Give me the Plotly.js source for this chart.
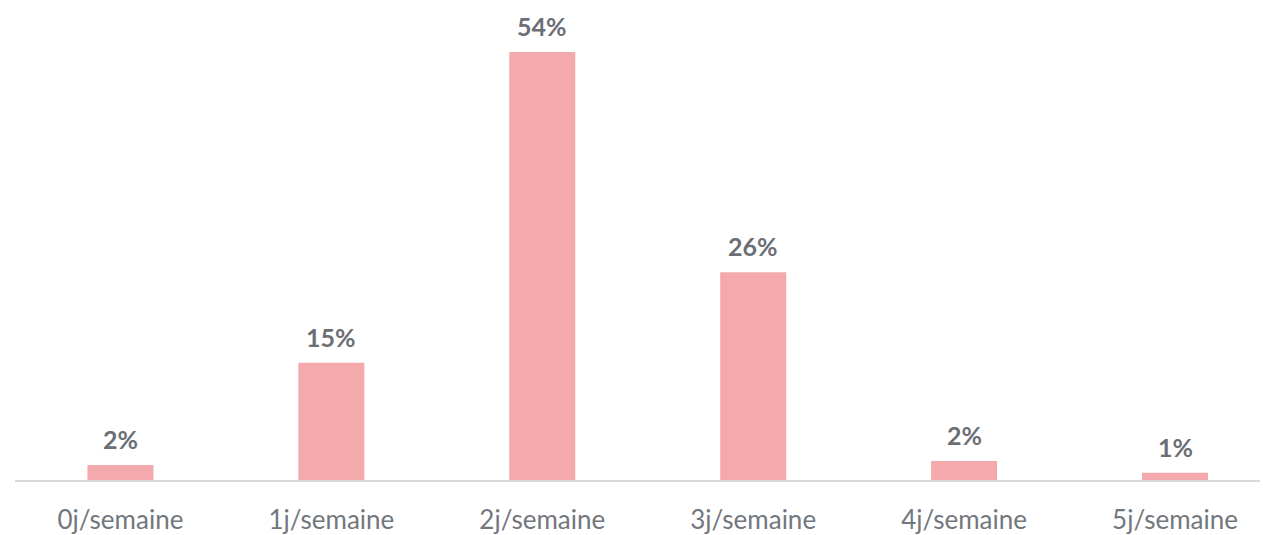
<!DOCTYPE html>
<html><head><meta charset="utf-8">
<script src="https://cdn.plot.ly/plotly-3.0.1.min.js"></script>
<style>html,body{margin:0;padding:0;background:#fff}#chart{width:1263px;height:535px}</style>
</head><body><div id="chart"></div>
<script>
const categories = ["0j/semaine","1j/semaine","2j/semaine","3j/semaine","4j/semaine","5j/semaine"];
const values = [1.9, 14.8, 54, 26.2, 2.4, 0.9];
const labels = ["2%","15%","54%","26%","2%","1%"];

const trace = {
  type: 'bar', x: categories, y: values,
  marker: {color: '#f4a9ad'}, width: 0.313, hoverinfo: 'none'
};
const annotations = categories.map((c, i) => ({
  x: c, y: values[i], text: '<b>' + labels[i] + '</b>', showarrow: false,
  yanchor: 'bottom', yshift: 9,
  font: {family: 'Lato, "Open Sans", sans-serif', size: 25, color: '#6b6f75'}
}));
const layout = {
  width: 1263, height: 535,
  margin: {l: 14.5, r: 3, t: 5, b: 55},
  paper_bgcolor: '#fff', plot_bgcolor: '#fff',
  showlegend: false,
  xaxis: {
    type: 'category', range: [-0.5, 5.403],
    showline: true, linecolor: '#d9d9d9', linewidth: 1.5,
    ticks: 'outside', ticklen: 16, tickcolor: 'rgba(0,0,0,0)',
    tickfont: {family: 'Lato, "Open Sans", sans-serif', size: 26, color: '#72777d'},
    showgrid: false, zeroline: false
  },
  yaxis: {range: [0, 59.93], visible: false, showgrid: false, zeroline: false},
  annotations: annotations
};
Plotly.newPlot('chart', [trace], layout, {staticPlot: true, displayModeBar: false});
</script></body></html>
